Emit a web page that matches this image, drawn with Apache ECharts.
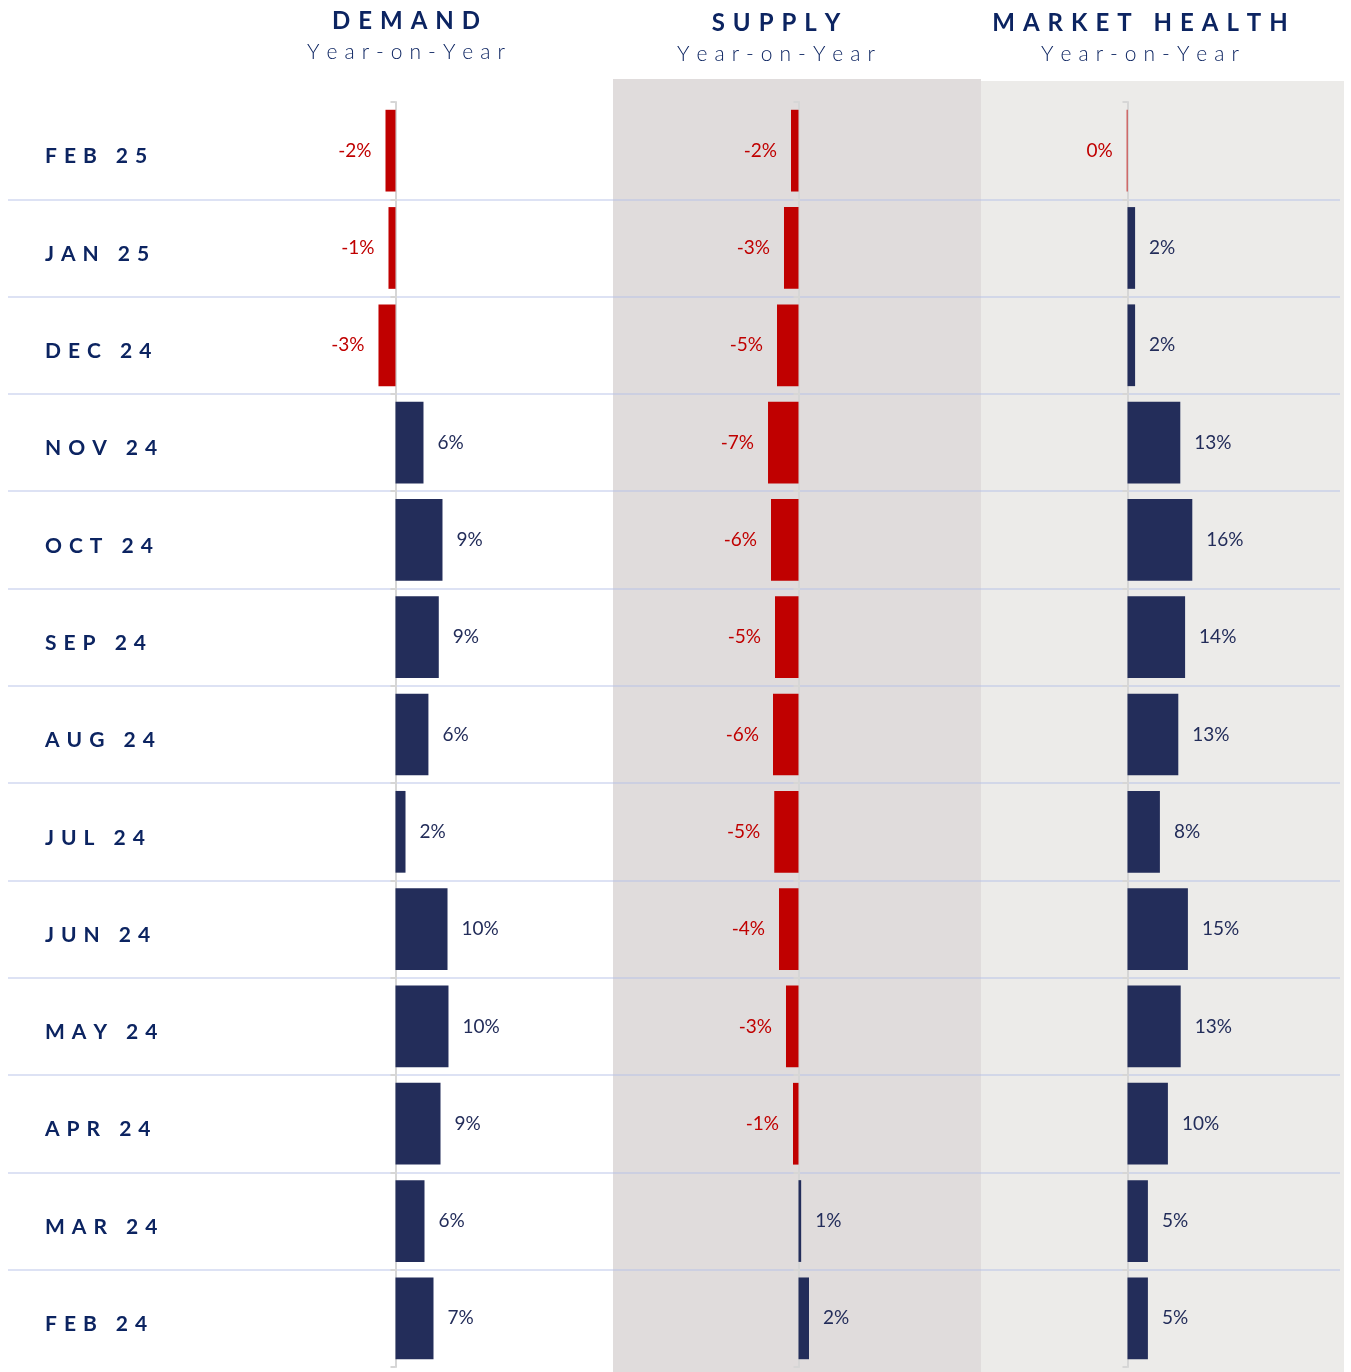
<!DOCTYPE html>
<html lang="en">
<head>
<meta charset="UTF-8">
<script src="https://cdn.jsdelivr.net/npm/echarts@6/dist/echarts.min.js"></script>
<title>Demand / Supply / Market Health</title>
<style>
  html, body { margin: 0; padding: 0; background: #fff; }
</style>
</head>
<body>
<div id="main" style="width: 1351px;height:1372px;"></div>
<script type="text/javascript">
// months, top to bottom
var months = ['FEB 25', 'JAN 25', 'DEC 24', 'NOV 24', 'OCT 24', 'SEP 24', 'AUG 24',
              'JUL 24', 'JUN 24', 'MAY 24', 'APR 24', 'MAR 24', 'FEB 24'];
// year-on-year change, %
var demand = [-1.97, -1.38, -3.35, 5.51, 9.25, 8.52, 6.48, 1.97, 10.24, 10.43, 8.86, 5.71, 7.48];
var supply = [-1.69, -3.26, -4.83, -6.85, -6.18, -5.28, -5.73, -5.45, -4.38, -2.81, -1.24, 0.6, 2.36];
var health = [-0.2, 1.9, 1.9, 13.2, 16.2, 14.4, 12.7, 8.1, 15.1, 13.3, 10.1, 5.1, 5.1];

var NAVY = '#232d5a';
var RED = '#c00000';
var TITLE = '#0c2461';
var SP = '\u2004';

function spaced(s) {
    // letter-spaced look of the original typography
    return s.split('').join(SP);
}

function barData(arr) {
    return arr.map(function (v) {
        return {
            value: v,
            itemStyle: { color: v < 0 ? RED : NAVY },
            label: { position: v < 0 ? 'left' : 'right', color: v < 0 ? RED : NAVY }
        };
    });
}

var TOP = 102, HEIGHT = 1265;

function valueAxis(idx, min, max) {
    return {
        type: 'value', gridIndex: idx, min: min, max: max,
        axisLine: { show: false }, axisTick: { show: false },
        axisLabel: { show: false }, splitLine: { show: false }
    };
}
function catAxis(idx) {
    return {
        type: 'category', gridIndex: idx, data: months, inverse: true,
        axisLine: { show: true, onZero: true, lineStyle: { color: '#d6d6d6', width: 2 } },
        axisTick: { show: true, length: 5, lineStyle: { color: '#d6d6d6', width: 2 } },
        axisLabel: { show: false },
        splitLine: { show: false }
    };
}
function barSeries(idx, arr) {
    return {
        type: 'bar', xAxisIndex: idx, yAxisIndex: idx,
        data: barData(arr),
        barWidth: '84%',
        z: 3,
        label: {
            show: true, distance: 14,
            fontFamily: 'Lato', fontSize: 19,
            formatter: function (p) { return Math.round(p.value) + '%'; }
        }
    };
}

function titles(text, sub, cx, ty) {
    return [
        { text: spaced(text), left: cx, top: ty, textAlign: 'center', padding: 0,
          textStyle: { fontFamily: 'Lato', fontSize: 24, fontWeight: 'bold', color: TITLE } },
        { text: spaced(sub), left: cx, top: ty + 33, textAlign: 'center', padding: 0,
          textStyle: { fontFamily: 'Lato', fontSize: 21, fontWeight: 300, color: TITLE } }
    ];
}

var myChart = echarts.init(document.getElementById('main'));

var option = {
    backgroundColor: '#ffffff',
    animation: false,
    title: [].concat(
        titles('DEMAND', 'Year-on-Year', 406, 9),
        titles('SUPPLY', 'Year-on-Year', 776, 11),
        titles('MARKET HEALTH', 'Year-on-Year', 1140, 11)
    ),
    graphic: [
        { type: 'rect', z: -10, shape: { x: 613, y: 79, width: 368, height: 1293 }, style: { fill: '#e0dcdc' } },
        { type: 'rect', z: -10, shape: { x: 981, y: 81, width: 363, height: 1291 }, style: { fill: '#ecebe9' } }
    ],
    grid: [
        // row labels and separators
        { left: 8, width: 1332, top: TOP, height: HEIGHT },
        // demand: zero at ~395.5, 5.08 px per %
        { left: 344.7, width: 152.4, top: TOP, height: HEIGHT },
        // supply: zero at ~798.5, 4.45 px per %
        { left: 731.75, width: 111.25, top: TOP, height: HEIGHT },
        // market health: zero at ~1127.5, 4 px per %
        { left: 1107.5, width: 120, top: TOP, height: HEIGHT }
    ],
    xAxis: [
        valueAxis(0, 0, 1),
        valueAxis(1, -10, 20),
        valueAxis(2, -15, 10),
        valueAxis(3, -5, 25)
    ],
    yAxis: [
        {
            type: 'category', gridIndex: 0, data: months, inverse: true,
            axisLine: { show: false }, axisTick: { show: false },
            axisLabel: {
                align: 'left', margin: -37,
                verticalAlign: 'top', lineHeight: 12,
                fontFamily: 'Lato', fontSize: 21, fontWeight: 'bold', color: TITLE,
                formatter: function (v) { return spaced(v); }
            },
            splitLine: {
                show: true, showMinLine: false, showMaxLine: false,
                lineStyle: { color: 'rgba(180,190,230,0.45)', width: 2 }
            }
        },
        catAxis(1),
        catAxis(2),
        catAxis(3)
    ],
    series: [
        barSeries(1, demand),
        barSeries(2, supply),
        barSeries(3, health)
    ]
};

myChart.setOption(option);
</script>
</body>
</html>
